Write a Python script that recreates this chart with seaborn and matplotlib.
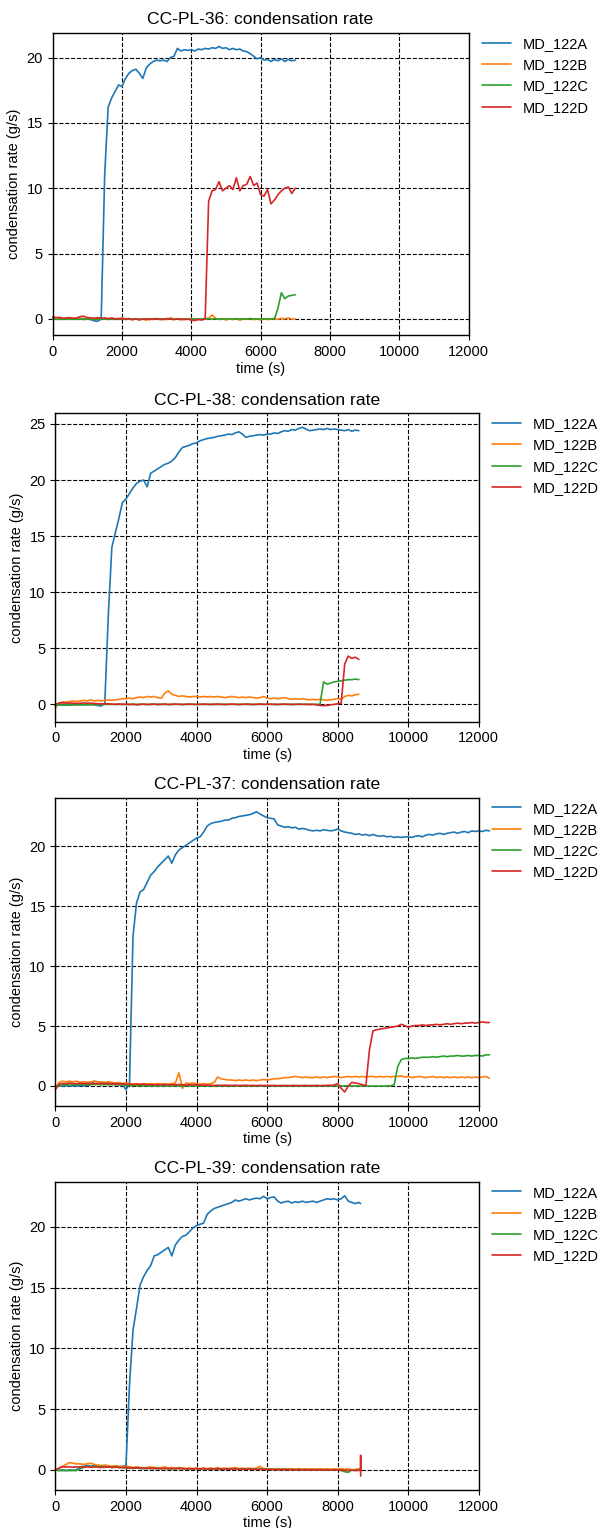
import numpy as np
import pandas as pd
import matplotlib
matplotlib.use("Agg")
import matplotlib.pyplot as plt
import seaborn as sns

nan = np.nan

# ---------------- data ----------------
series_names = ["MD_122A", "MD_122B", "MD_122C", "MD_122D"]
series_colors = ["#1f77b4", "#ff7f0e", "#2ca02c", "#d62728"]
x_ticks = [0, 2000, 4000, 6000, 8000, 10000, 12000]

# CC-PL-36
t36 = list(range(0, 7001, 100))
a36 = [0.05, 0.0, 0.02, -0.02, 0.03, 0.0, 0.02, -0.01, 0.03, 0.01,
       0.0, -0.05, -0.15, -0.18, 0.0, 11.0, 16.2, 16.9, 17.4, 17.9,
       17.8, 18.4, 18.8, 19.0, 19.1, 18.8, 18.4, 19.2, 19.5, 19.7,
       19.8, 19.75, 19.8, 19.7, 20.0, 20.1, 20.7, 20.5, 20.6, 20.55,
       20.6, 20.5, 20.65, 20.6, 20.7, 20.65, 20.75, 20.7, 20.85, 20.7,
       20.75, 20.6, 20.7, 20.6, 20.65, 20.5, 20.45, 20.3, 20.1, 19.9,
       20.0, 19.8, 19.85, 19.7, 19.85, 19.75, 19.9, 19.7, 19.85, 19.75,
       19.8]
b36 = [0.0, 0.05, -0.05, 0.03, -0.02, 0.05, -0.03, 0.02, 0.0, -0.05,
       0.03, 0.0, -0.03, 0.05, 0.0, 0.02, -0.05, 0.08, 0.0, -0.05,
       0.1, -0.05, 0.0, -0.08, 0.03, -0.05, 0.0, -0.1, 0.02, -0.05,
       0.05, -0.08, 0.0, -0.05, 0.1, -0.03, 0.0, -0.08, 0.02, -0.05,
       0.05, -0.03, 0.0, -0.05, 0.03, 0.05, 0.3, 0.05, -0.05, 0.02,
       -0.08, 0.0, -0.05, 0.03, -0.1, 0.0, -0.03, 0.05, -0.05, 0.0,
       -0.08, 0.02, -0.05, 0.0, 0.03, -0.03, 0.05, 0.0, 0.08, -0.02,
       0.0]
c36 = [-0.02, -0.03, -0.02, -0.03, -0.02, -0.03, -0.02, -0.03, -0.02, -0.03,
       -0.02, -0.03, -0.02, -0.02, -0.03, -0.02, -0.02, -0.03, -0.02, -0.02,
       -0.01, -0.02, -0.01, -0.02, -0.01, -0.02, -0.01, -0.02, -0.01, -0.02,
       -0.01, -0.02, -0.01, -0.01, -0.02, -0.01, -0.01, -0.02, -0.01, -0.01,
       -0.01, 0.0, -0.01, 0.0, -0.01, 0.0, -0.01, 0.0, -0.01, 0.0,
       0.0, 0.0, -0.01, 0.0, 0.0, 0.0, -0.01, 0.0, 0.0, 0.0,
       0.0, 0.0, 0.0, 0.0, 0.0, 0.8, 2.0, 1.55, 1.75, 1.8,
       1.85]
d36 = [0.15, 0.1, 0.12, 0.05, 0.08, 0.1, 0.05, 0.08, 0.18, 0.2,
       0.1, 0.08, 0.05, 0.1, 0.05, 0.08, 0.02, 0.05, 0.0, 0.03,
       0.0, -0.02, 0.03, -0.05, 0.0, -0.08, -0.02, 0.0, -0.05, 0.02,
       -0.03, 0.0, -0.05, 0.03, -0.02, -0.05, 0.0, -0.03, -0.05, 0.0,
       -0.1, -0.12, -0.05, -0.08, 0.0, 9.0, 9.8, 9.9, 10.5, 9.8,
       10.0, 10.2, 9.9, 10.8, 9.8, 10.2, 10.3, 10.9, 10.2, 10.4,
       9.5, 9.4, 9.9, 8.8, 9.1, 9.5, 9.8, 10.0, 10.1, 9.6,
       10.0]

# CC-PL-38
t38 = list(range(0, 8601, 100))
a38 = [-0.1, -0.05, 0.0, -0.05, 0.0, -0.02, 0.0, -0.05, 0.0, -0.03,
       0.0, -0.05, -0.1, -0.15, 0.1, 8.0, 14.0, 15.3, 16.6, 18.0,
       18.3, 18.8, 19.3, 19.7, 19.9, 20.0, 19.4, 20.6, 20.8, 21.0,
       21.2, 21.4, 21.5, 21.7, 22.0, 22.5, 22.9, 23.0, 23.1, 23.25,
       23.3, 23.5, 23.6, 23.7, 23.75, 23.8, 23.9, 23.95, 24.0, 24.1,
       24.05, 24.2, 24.3, 24.1, 23.8, 23.9, 23.95, 24.0, 24.05, 24.0,
       24.1, 24.1, 24.2, 24.15, 24.3, 24.4, 24.35, 24.5, 24.45, 24.6,
       24.7, 24.55, 24.4, 24.45, 24.5, 24.55, 24.5, 24.6, 24.5, 24.55,
       24.5, 24.45, 24.4, 24.5, 24.35, 24.45, 24.4]
b38 = [-0.3, 0.1, 0.2, 0.2, 0.25, 0.3, 0.25, 0.3, 0.35, 0.3,
       0.4, 0.3, 0.35, 0.3, 0.35, 0.4, 0.35, 0.4, 0.45, 0.5,
       0.5, 0.55, 0.5, 0.6, 0.65, 0.6, 0.7, 0.65, 0.7, 0.6,
       0.55, 1.0, 1.2, 0.9, 0.8, 0.7, 0.75, 0.7, 0.65, 0.7,
       0.7, 0.65, 0.7, 0.65, 0.7, 0.65, 0.7, 0.65, 0.6, 0.65,
       0.7, 0.65, 0.6, 0.65, 0.6, 0.65, 0.6, 0.55, 0.6, 0.7,
       0.55, 0.5, 0.55, 0.5, 0.55, 0.6, 0.5, 0.45, 0.5, 0.45,
       0.5, 0.45, 0.4, 0.45, 0.4, 0.45, 0.4, 0.35, 0.4, 0.45,
       0.5, 0.45, 0.7, 0.8, 0.75, 0.85, 0.9]
c38 = [-0.1, -0.05, -0.08, -0.05, -0.08, -0.05, -0.06, -0.04, -0.05, -0.03,
       -0.04, -0.02, -0.03, -0.02, 0.0, -0.01, 0.0, -0.01, 0.0, 0.0,
       0.0, 0.0, -0.01, 0.0, 0.0, 0.0, -0.01, 0.0, 0.0, 0.0,
       0.0, 0.0, -0.01, 0.0, 0.0, 0.0, -0.01, 0.0, 0.0, 0.0,
       0.0, 0.0, -0.01, 0.0, 0.0, 0.0, -0.01, 0.0, 0.0, 0.0,
       0.0, 0.0, -0.01, 0.0, 0.0, 0.0, -0.01, 0.0, 0.0, 0.0,
       0.0, 0.0, -0.01, 0.0, 0.0, 0.0, -0.01, 0.0, 0.0, 0.0,
       0.0, 0.0, 0.0, 0.0, 0.0, 0.0, 2.0, 1.8, 1.9, 2.0,
       2.05, 2.1, 2.15, 2.2, 2.2, 2.25, 2.2]
d38 = [0.0, 0.1, 0.15, 0.1, 0.12, 0.1, 0.08, 0.1, 0.12, 0.1,
       0.1, 0.08, 0.05, 0.05, 0.03, 0.05, 0.02, 0.0, 0.03, 0.0,
       0.0, -0.02, 0.02, -0.05, 0.0, 0.02, -0.02, 0.0, 0.02, -0.02,
       0.0, 0.02, -0.02, 0.0, 0.02, 0.0, -0.02, 0.0, 0.02, 0.0,
       -0.02, 0.0, 0.02, 0.0, -0.02, 0.0, 0.02, 0.0, -0.02, 0.0,
       0.02, 0.0, -0.02, 0.0, 0.02, 0.0, -0.02, 0.0, 0.02, 0.0,
       0.0, 0.02, 0.0, -0.02, 0.0, 0.02, 0.0, -0.02, 0.0, 0.02,
       0.0, 0.0, -0.02, 0.0, -0.05, -0.1, -0.12, -0.1, -0.05, 0.0,
       0.05, 0.1, 3.6, 4.3, 4.1, 4.2, 4.0]

# CC-PL-37
t37 = list(range(0, 12301, 100))
a37 = [0.0, 0.02, 0.0, 0.03, 0.0, 0.02, 0.0, 0.03, 0.02, 0.05,
       0.1, 0.4, 0.35, 0.3, 0.25, 0.3, 0.25, 0.2, 0.25, 0.1,
       -0.3, 0.2, 12.5, 15.3, 16.2, 16.4, 17.0, 17.6, 17.9, 18.3,
       18.6, 18.9, 19.2, 18.6, 19.3, 19.7, 19.9, 20.1, 20.3, 20.5,
       20.7, 20.8, 21.2, 21.7, 21.9, 22.0, 22.05, 22.1, 22.2, 22.2,
       22.35, 22.4, 22.5, 22.55, 22.6, 22.65, 22.75, 22.9, 22.7, 22.55,
       22.4, 22.35, 22.3, 21.8, 21.7, 21.6, 21.65, 21.55, 21.6, 21.45,
       21.5, 21.45, 21.35, 21.3, 21.35, 21.3, 21.4, 21.35, 21.3, 21.35,
       21.45, 21.3, 21.2, 21.15, 21.1, 21.0, 21.05, 20.95, 21.0, 20.9,
       21.0, 20.9, 20.85, 20.9, 20.8, 20.85, 20.75, 20.8, 20.75, 20.8,
       20.8, 20.75, 20.85, 20.9, 20.8, 20.95, 21.0, 20.95, 21.05, 21.1,
       21.0, 21.1, 21.15, 21.2, 21.1, 21.2, 21.25, 21.15, 21.3, 21.25,
       21.3, 21.25, 21.35, 21.3]
b37 = [-0.2, 0.3, 0.4, 0.35, 0.4, 0.35, 0.4, 0.3, 0.35, 0.3,
       0.35, 0.4, 0.3, 0.35, 0.3, 0.35, 0.3, 0.25, 0.3, 0.2,
       0.25, 0.2, 0.15, 0.2, 0.15, 0.2, 0.15, 0.2, 0.15, 0.2,
       0.15, 0.2, 0.15, 0.2, 0.25, 1.1, -0.2, 0.25, 0.2, 0.25,
       0.2, 0.15, 0.2, 0.15, 0.2, 0.3, 0.75, 0.6, 0.55, 0.5,
       0.5, 0.45, 0.5, 0.45, 0.5, 0.45, 0.5, 0.45, 0.5, 0.55,
       0.5, 0.55, 0.6, 0.6, 0.65, 0.7, 0.7, 0.75, 0.8, 0.75,
       0.7, 0.75, 0.7, 0.7, 0.75, 0.7, 0.75, 0.7, 0.75, 0.8,
       0.75, 0.7, 0.75, 0.8, 0.75, 0.8, 0.75, 0.8, 0.75, 0.8,
       0.8, 0.75, 0.8, 0.75, 0.8, 0.75, 0.8, 0.8, 0.85, 0.75,
       0.8, 0.7, 0.75, 0.8, 0.75, 0.7, 0.75, 0.8, 0.7, 0.75,
       0.7, 0.75, 0.7, 0.75, 0.7, 0.75, 0.7, 0.75, 0.7, 0.75,
       0.7, 0.75, 0.8, 0.65]
c37 = [0.0, 0.05, 0.08, 0.1, 0.08, 0.1, 0.12, 0.1, 0.12, 0.1,
       0.15, 0.12, 0.15, 0.1, 0.12, 0.1, 0.12, 0.1, 0.08, 0.1,
       0.05, 0.05, 0.03, 0.02, 0.02, 0.0, 0.02, 0.0, 0.02, 0.0,
       0.0, 0.01, 0.0, 0.0, 0.01, 0.0, 0.0, 0.01, 0.0, 0.0,
       0.01, 0.0, 0.0, 0.01, 0.0, 0.0, 0.01, 0.0, 0.0, 0.01,
       0.0, 0.0, 0.01, 0.0, 0.0, 0.01, 0.0, 0.0, 0.01, 0.0,
       0.0, 0.01, 0.0, 0.0, 0.01, 0.0, 0.0, 0.01, 0.0, 0.0,
       0.01, 0.0, 0.0, 0.01, 0.0, 0.0, 0.01, 0.0, 0.0, 0.01,
       0.0, 0.0, 0.01, 0.0, 0.0, 0.01, 0.0, 0.0, 0.01, 0.0,
       0.0, 0.0, 0.0, 0.0, 0.0, 0.02, 0.1, 1.6, 2.2, 2.3,
       2.3, 2.35, 2.3, 2.35, 2.4, 2.4, 2.4, 2.45, 2.4, 2.45,
       2.5, 2.45, 2.5, 2.5, 2.55, 2.5, 2.5, 2.55, 2.5, 2.55,
       2.55, 2.5, 2.6, 2.6]
d37 = [-0.3, 0.15, 0.2, 0.2, 0.25, 0.2, 0.2, 0.22, 0.2, 0.2,
       0.22, 0.2, 0.18, 0.2, 0.22, 0.2, 0.18, 0.2, 0.15, 0.18,
       0.15, 0.15, 0.12, 0.15, 0.12, 0.15, 0.12, 0.1, 0.12, 0.1,
       0.12, 0.1, 0.12, 0.1, 0.1, 0.12, 0.1, 0.08, 0.1, 0.08,
       0.1, 0.08, 0.06, 0.08, 0.06, 0.05, 0.06, 0.05, 0.06, 0.05,
       0.05, 0.06, 0.04, 0.05, 0.06, 0.04, 0.05, 0.04, 0.05, 0.04,
       0.05, 0.04, 0.05, 0.03, 0.04, 0.05, 0.03, 0.04, 0.05, 0.03,
       0.04, 0.05, 0.03, 0.04, 0.05, 0.03, 0.04, 0.05, 0.06, 0.08,
       0.2, -0.2, -0.5, 0.0, 0.3, 0.25, 0.2, 0.1, 0.05, 3.0,
       4.6, 4.7, 4.75, 4.8, 4.85, 4.9, 4.95, 5.0, 5.15, 5.05,
       4.9, 5.0, 5.05, 5.05, 5.1, 5.05, 5.1, 5.1, 5.15, 5.1,
       5.15, 5.2, 5.15, 5.2, 5.25, 5.2, 5.25, 5.25, 5.3, 5.25,
       5.3, 5.35, 5.3, 5.3]

# CC-PL-39
t39 = list(range(0, 8601, 100)) + [8650, 8651, 8652]
a39 = [0.0, -0.05, 0.0, -0.05, 0.0, -0.03, 0.0, 0.25, 0.3, 0.35,
       0.3, 0.35, 0.3, 0.35, 0.3, 0.3, 0.25, 0.3, 0.25, 0.3,
       0.35, 7.0, 11.5, 13.3, 15.2, 15.9, 16.4, 16.8, 17.6, 17.7,
       17.9, 18.1, 18.3, 17.6, 18.5, 18.9, 19.2, 19.3, 19.6, 19.9,
       20.1, 20.2, 20.3, 21.0, 21.3, 21.5, 21.6, 21.7, 21.8, 21.9,
       22.0, 22.2, 22.1, 22.2, 22.3, 22.2, 22.3, 22.35, 22.3, 22.5,
       22.3, 22.4, 22.45, 22.1, 21.95, 22.05, 22.1, 21.95, 22.05, 22.0,
       22.1, 22.0, 22.05, 22.1, 22.0, 22.1, 22.2, 22.3, 22.25, 22.3,
       22.2, 22.3, 22.55, 22.1, 22.0, 21.9, 22.0,
       21.9, nan, nan]
b39 = [0.0, 0.1, 0.3, 0.45, 0.6, 0.55, 0.5, 0.5, 0.45, 0.5,
       0.55, 0.45, 0.4, 0.35, 0.4, 0.35, 0.3, 0.35, 0.3, 0.25,
       0.3, 0.25, 0.2, 0.25, 0.2, 0.15, 0.2, 0.25, 0.2, 0.15,
       0.2, 0.25, 0.15, 0.2, 0.15, 0.2, 0.15, 0.1, 0.15, 0.1,
       0.15, 0.1, 0.15, 0.1, 0.15, 0.1, 0.2, 0.1, 0.15, 0.1,
       0.15, 0.2, 0.1, 0.15, 0.1, 0.15, 0.1, 0.15, 0.3, 0.1,
       0.05, 0.1, 0.05, 0.1, 0.05, 0.1, 0.05, 0.1, 0.05, 0.1,
       0.05, 0.1, 0.05, 0.1, 0.05, 0.1, 0.05, 0.1, 0.05, 0.1,
       0.05, 0.1, 0.05, 0.1, 0.0, 0.05, 0.1,
       0.05, nan, nan]
c39 = [0.0, -0.05, -0.05, -0.05, -0.05, -0.05, -0.05, 0.1, 0.2, 0.3,
       0.25, 0.3, 0.25, 0.3, 0.25, 0.25, 0.2, 0.25, 0.2, 0.2,
       0.15, 0.15, 0.12, 0.15, 0.12, 0.1, 0.12, 0.1, 0.12, 0.1,
       0.1, 0.12, 0.1, 0.08, 0.1, 0.12, 0.1, 0.08, 0.1, 0.08,
       0.1, 0.08, 0.1, 0.08, 0.06, 0.08, 0.1, 0.08, 0.06, 0.08,
       0.06, 0.08, 0.05, 0.06, 0.08, 0.05, 0.06, 0.05, 0.08, 0.05,
       0.04, 0.05, 0.03, 0.05, 0.04, 0.02, 0.05, 0.03, 0.02, 0.04,
       0.02, 0.0, 0.03, 0.01, 0.02, 0.0, 0.02, 0.01, 0.0, 0.02,
       0.0, -0.05, -0.15, -0.2, 0.0, -0.05, 0.0,
       0.0, nan, nan]
d39 = [0.0, 0.15, 0.25, 0.25, 0.25, 0.22, 0.25, 0.25, 0.22, 0.25,
       0.22, 0.25, 0.22, 0.2, 0.22, 0.25, 0.2, 0.22, 0.2, 0.18,
       0.2, 0.18, 0.15, 0.18, 0.15, 0.15, 0.12, 0.15, 0.12, 0.12,
       0.1, 0.12, 0.1, 0.12, 0.1, 0.1, 0.12, 0.1, 0.08, 0.1,
       0.1, 0.08, 0.1, 0.08, 0.1, 0.08, 0.06, 0.08, 0.06, 0.08,
       0.06, 0.08, 0.05, 0.06, 0.05, 0.06, 0.05, 0.04, 0.05, 0.04,
       0.05, 0.03, 0.04, 0.02, 0.03, 0.02, 0.03, 0.01, 0.02, 0.0,
       0.02, 0.0, 0.01, -0.02, 0.0, 0.01, -0.02, 0.0, -0.01, 0.0,
       -0.02, 0.0, -0.03, -0.05, -0.02, -0.05, -0.03,
       -0.05, 1.2, -0.5]

charts = [
    ("CC-PL-36", t36, [a36, b36, c36, d36]),
    ("CC-PL-38", t38, [a38, b38, c38, d38]),
    ("CC-PL-37", t37, [a37, b37, c37, d37]),
    ("CC-PL-39", t39, [a39, b39, c39, d39]),
]
for name, t, vals in charts:
    for v in vals:
        assert len(v) == len(t), (name, len(v), len(t))

# ---------------- style ----------------
sns.set_theme(style="ticks")
plt.rcParams['font.family'] = ['Liberation Sans', 'DejaVu Sans']
plt.rcParams.update({
    "text.color": "black", "axes.labelcolor": "black",
    "xtick.color": "black", "ytick.color": "black",
    "axes.edgecolor": "black", "axes.linewidth": 1.0,
    "xtick.major.width": 0.8, "ytick.major.width": 0.8,
    "xtick.major.size": 3.5, "ytick.major.size": 3.5,
})

W, H = 600, 1528
fig = plt.figure(figsize=(W / 100, H / 100), dpi=100)
boxes = [(52.7, 468.5, 32.7, 335.0),
         (55.4, 478.8, 413.3, 721.7),
         (55.4, 478.8, 797.7, 1106.0),
         (55.4, 478.8, 1181.7, 1490.0)]

for (name, t, vals), (l, r, top, bot) in zip(charts, boxes):
    ax = fig.add_axes([l / W, 1 - bot / H, (r - l) / W, (bot - top) / H])
    for sname, v, col in zip(series_names, vals, series_colors):
        df = pd.DataFrame({"time": t, "rate": v}).dropna()
        sns.lineplot(data=df, x="time", y="rate", ax=ax, color=col,
                     label=sname, linewidth=1.2, estimator=None, sort=False)
    for ln in ax.lines:
        ln.set_clip_on(False)
    ax.set_xlim(0, 12000)
    ax.set_xticks(x_ticks)
    ax.grid(True, linestyle="--", color="black", linewidth=0.8)
    ax.set_axisbelow(True)
    ax.tick_params(labelsize=10.5)
    ax.set_title(f"{name}: condensation rate", fontsize=12.6)
    ax.set_xlabel("time (s)", fontsize=10.5, labelpad=2)
    ax.set_ylabel("condensation rate (g/s)", fontsize=10.5)
    for sp in ax.spines.values():
        sp.set_color("black")
    ax.legend(loc="upper left", bbox_to_anchor=(1.0, 1.03), frameon=False,
              fontsize=10.5)

fig.savefig("out.png", dpi=100)
